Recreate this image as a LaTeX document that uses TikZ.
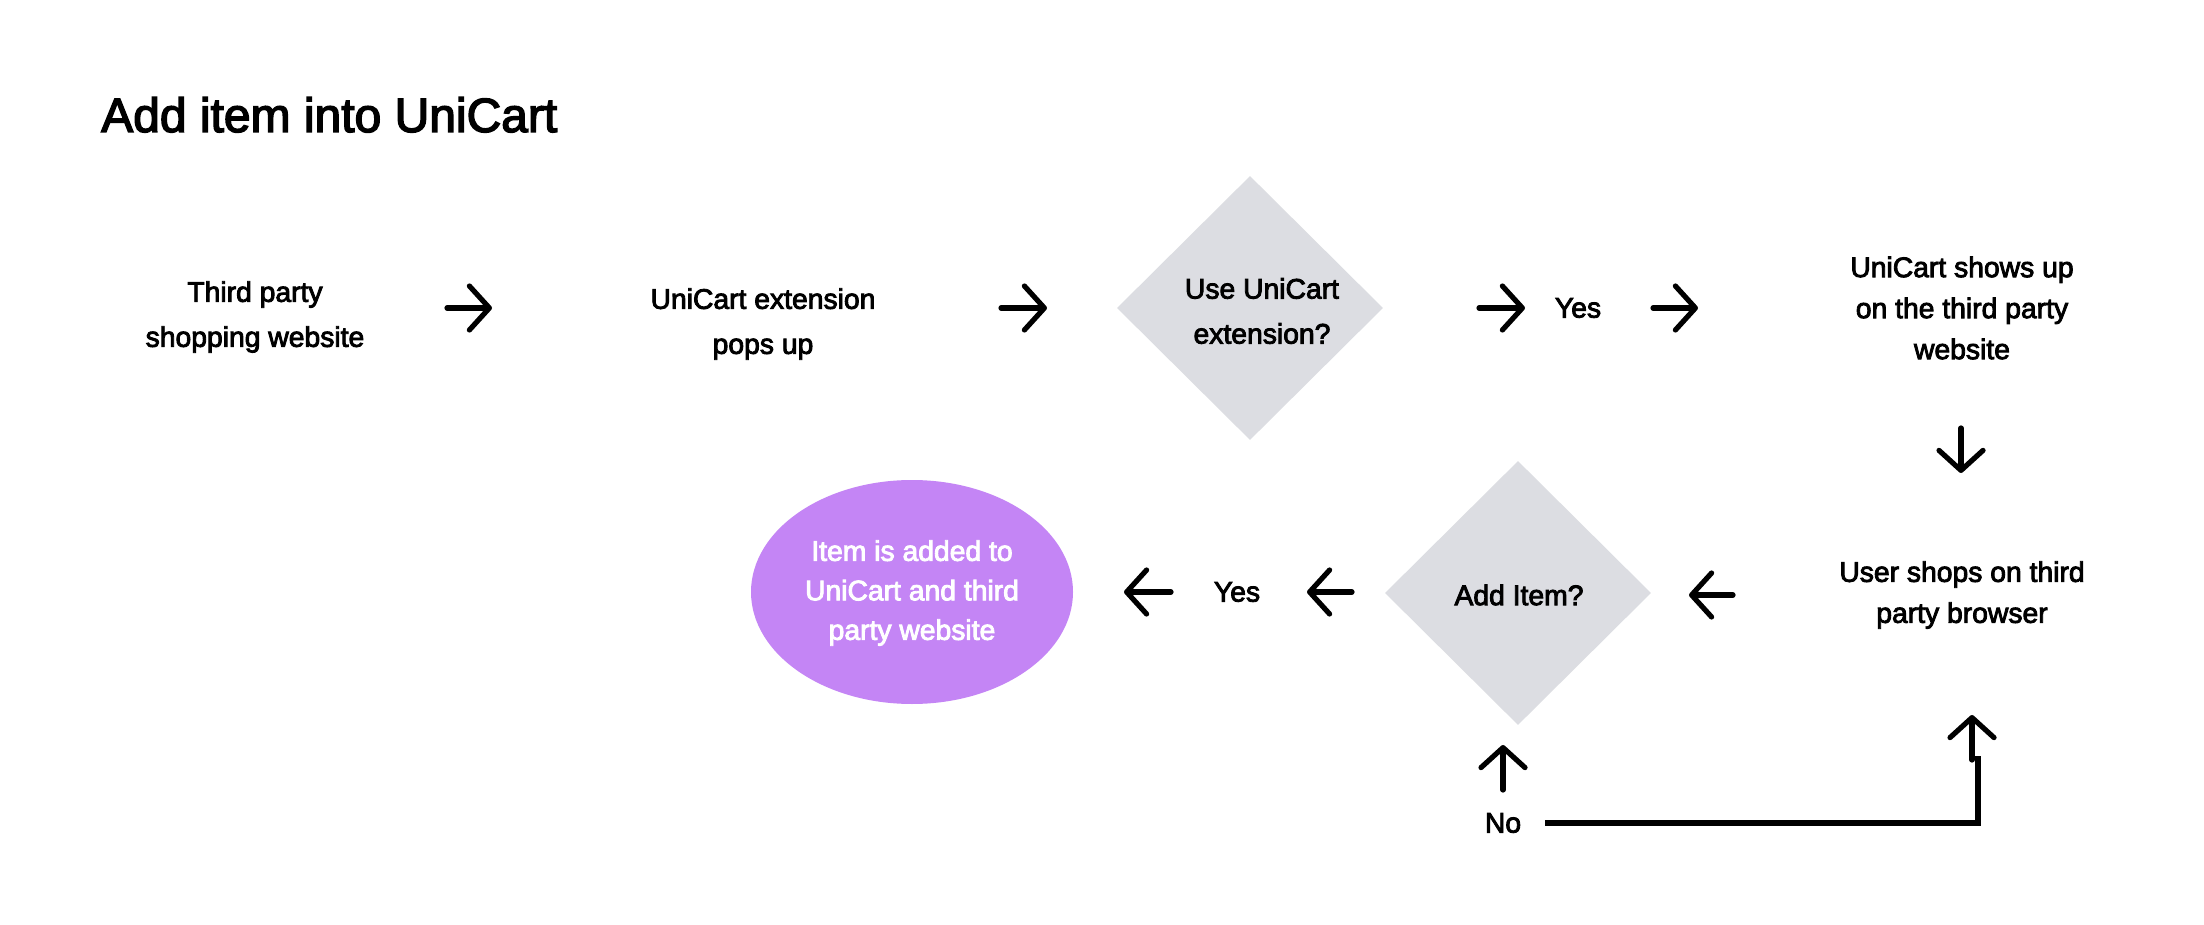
\documentclass[tikz,border=0pt]{standalone}
\usepackage{fontspec}
\setmainfont{Liberation Sans}[FakeBold=3]
\usetikzlibrary{arrows.meta,shapes.geometric}
\definecolor{dgray}{RGB}{220,221,226}
\definecolor{epurple}{RGB}{196,133,245}
\tikzset{
  lbl/.style={font=\fontsize{28.3}{41}\selectfont, align=center, text=black, inner sep=0pt},
  conn/.style={line width=5.2pt, line cap=round,
    -{Straight Barb[length=20pt,width=44pt,line width=5.2pt,round]}},
  plainline/.style={line width=5.2pt},
  decbox/.style={diamond, fill=dgray, minimum width=266pt, minimum height=264pt, inner sep=0pt},
  endbox/.style={ellipse, fill=epurple, minimum width=322pt, minimum height=224pt, inner sep=0pt}
}
\begin{document}
\begin{tikzpicture}[x=1pt,y=-1pt]
\useasboundingbox[fill=white] (0,0) rectangle (2204,925);
% title
\node[anchor=base west, inner sep=0pt, font=\fontsize{48}{56}\selectfont] (title) at (101,132) {Add item into UniCart};
% top row
\node[lbl, font=\fontsize{28.3}{45}\selectfont] (n1) at (255,317) {Third party\\shopping website};
\node[lbl, font=\fontsize{28.3}{45}\selectfont] (n2) at (763,324) {UniCart extension\\pops up};
\node[decbox] (d1) at (1250,308) {};
\node[lbl, font=\fontsize{28.3}{45}\selectfont] (d1t) at (1262,311) {Use UniCart\\extension?};
\node[lbl] (yes1) at (1578,308) {Yes};
\node[lbl] (n3) at (1962,308) {UniCart shows up\\on the third party\\website};
% bottom row
\node[lbl] (n4) at (1962,595) {User shops on third\\party browser};
\node[decbox] (d2) at (1518,593) {};
\node[lbl] (d2t) at (1519,595) {Add Item?};
\node[lbl] (yes2) at (1237,592) {Yes};
\node[endbox] (e1) at (912,592) {};
\node[lbl, text=white, font=\fontsize{28.3}{39.5}\selectfont] (e1t) at (912,593) {Item is added to\\UniCart and third\\party website};
\node[lbl] (no) at (1503,823) {No};
% arrow coordinates
\coordinate (a1s) at (447,308); \coordinate (a1e) at (492,308);
\coordinate (a2s) at (1001,308); \coordinate (a2e) at (1047,308);
\coordinate (a3s) at (1479,308); \coordinate (a3e) at (1525,308);
\coordinate (a4s) at (1653,308); \coordinate (a4e) at (1698,308);
\coordinate (a5s) at (1961,428); \coordinate (a5e) at (1961,473);
\coordinate (a6s) at (1733,595); \coordinate (a6e) at (1689,595);
\coordinate (a7s) at (1352,592); \coordinate (a7e) at (1307,592);
\coordinate (a8s) at (1171,592); \coordinate (a8e) at (1124,592);
\coordinate (a9s) at (1503,790); \coordinate (a9e) at (1503,745);
\coordinate (lns) at (1545,823); \coordinate (lnc) at (1978,823); \coordinate (lne) at (1978,756);
\coordinate (a10s) at (1972,760); \coordinate (a10e) at (1972,715);
\draw[conn] (a1s) -- (a1e);
\draw[conn] (a2s) -- (a2e);
\draw[conn] (a3s) -- (a3e);
\draw[conn] (a4s) -- (a4e);
\draw[conn] (a5s) -- (a5e);
\draw[conn] (a6s) -- (a6e);
\draw[conn] (a7s) -- (a7e);
\draw[conn] (a8s) -- (a8e);
\draw[conn] (a9s) -- (a9e);
\draw[plainline] (lns) -- (lnc) -- (lne);
\draw[conn] (a10s) -- (a10e);
\end{tikzpicture}
\end{document}
